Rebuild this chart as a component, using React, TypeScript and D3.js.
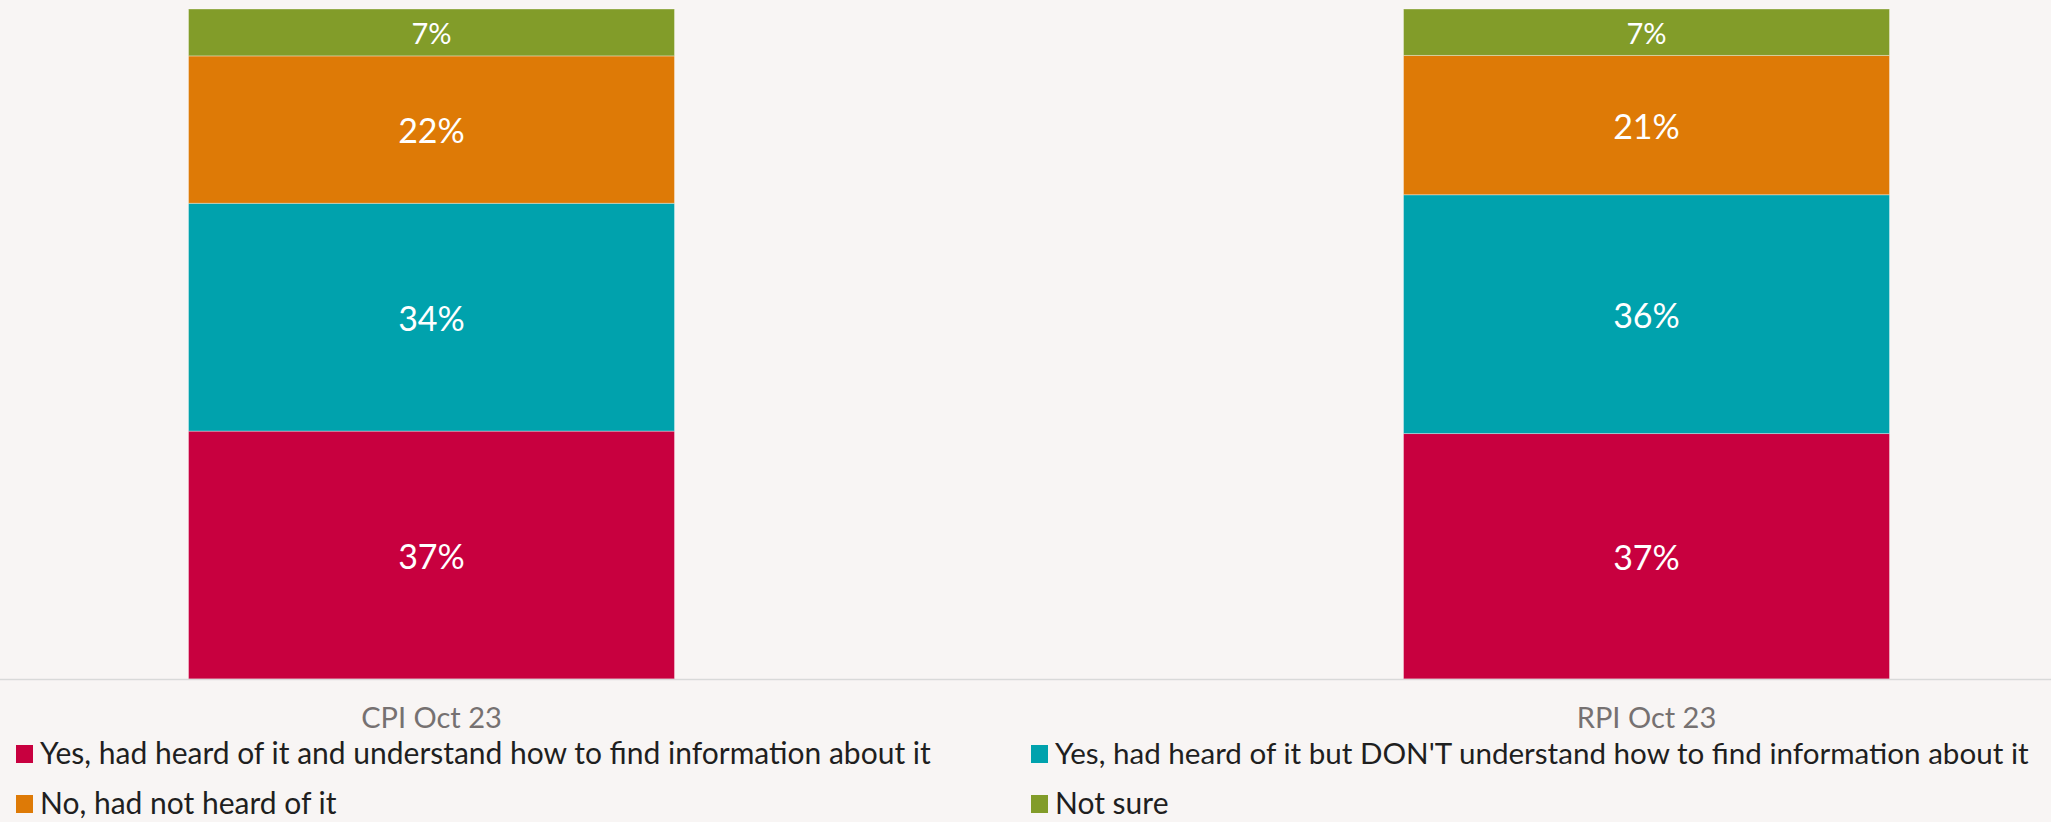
import * as d3 from 'd3'
import { useEffect, useRef } from 'react'

const categories = ['CPI Oct 23', 'RPI Oct 23']
const seriesNames = [
  'Yes, had heard of it and understand how to find information about it',
  "Yes, had heard of it but DON'T understand how to find information about it",
  'No, had not heard of it',
  'Not sure',
]
const seriesKeys = ['understand', 'dontUnderstand', 'notHeard', 'notSure']
const understand = [37, 37]
const dontUnderstand = [34, 36]
const notHeard = [22, 21]
const notSure = [7, 7]
const colors = ['#c8003f', '#00a2ad', '#de7a06', '#829c29']

const W = 2051
const H = 822

export default function App() {
  const svgRef = useRef<SVGSVGElement>(null)

  useEffect(() => {
    if (!svgRef.current) return
    const svg = d3.select(svgRef.current)
    svg.selectAll('*').remove()

    const font = 'Lato, "Open Sans", sans-serif'
    const rows = categories.map((c, i) => ({
      category: c,
      understand: understand[i],
      dontUnderstand: dontUnderstand[i],
      notHeard: notHeard[i],
      notSure: notSure[i],
    }))

    const x = d3.scaleBand().domain(categories).range([-176, 2254]).paddingInner(0.6).paddingOuter(0.3)
    const y = d3.scaleLinear().domain([0, 1]).range([679, 9])

    // 100% stacked: normalise each column
    const stack = d3.stack<any>().keys(seriesKeys).offset(d3.stackOffsetExpand)
    const series = stack(rows)

    svg.append('rect').attr('width', W).attr('height', H).attr('fill', '#f8f5f4')

    series.forEach((s, si) => {
      const g = svg.append('g')
      g.selectAll('rect')
        .data(s)
        .join('rect')
        .attr('x', (d) => x(d.data.category)!)
        .attr('width', x.bandwidth())
        .attr('y', (d) => y(d[1]))
        .attr('height', (d) => y(d[0]) - y(d[1]))
        .attr('fill', colors[si])
        .attr('stroke', 'rgba(255,255,255,0.35)')
        .attr('stroke-width', 1)

      g.selectAll('text')
        .data(s)
        .join('text')
        .attr('x', (d) => x(d.data.category)! + x.bandwidth() / 2)
        .attr('y', (d) => (y(d[0]) + y(d[1])) / 2)
        .attr('text-anchor', 'middle')
        .attr('dominant-baseline', 'central')
        .attr('fill', '#ffffff')
        .attr('font-family', font)
        .attr('font-size', (d) => (y(d[0]) - y(d[1]) < 60 ? 29 : 34))
        .text((d) => `${d.data[seriesKeys[si]]}%`)
    })

    // category axis
    svg.append('line')
      .attr('x1', 0)
      .attr('x2', W)
      .attr('y1', y(0) + 0.5)
      .attr('y2', y(0) + 0.5)
      .attr('stroke', '#d9d9d9')
      .attr('stroke-width', 1.5)

    svg.append('g')
      .selectAll('text')
      .data(categories)
      .join('text')
      .attr('x', (d) => x(d)! + x.bandwidth() / 2)
      .attr('y', 728)
      .attr('text-anchor', 'middle')
      .attr('fill', '#767171')
      .attr('font-family', font)
      .attr('font-size', 29)
      .text((d) => d)

    // legend, 2 x 2 (y = text baseline)
    const legendPos = [
      { x: 16, y: 764 },
      { x: 1031, y: 764 },
      { x: 16, y: 814 },
      { x: 1031, y: 814 },
    ]
    const lg = svg.append('g')
    seriesNames.forEach((name, i) => {
      const p = legendPos[i]
      lg.append('rect').attr('x', p.x).attr('y', p.y - 19).attr('width', 17).attr('height', 18).attr('fill', colors[i])
      lg.append('text')
        .attr('x', p.x + 24)
        .attr('y', p.y)
        .attr('fill', '#1f1f1f')
        .attr('font-family', font)
        .attr('font-size', i === 1 ? 29.6 : 30)
        .text(name)
    })
  }, [])

  return (
    <svg
      ref={svgRef}
      width={W}
      height={H}
      viewBox={`0 0 ${W} ${H}`}
      style={{ position: 'absolute', left: 0, top: 0, display: 'block' }}
    />
  )
}
